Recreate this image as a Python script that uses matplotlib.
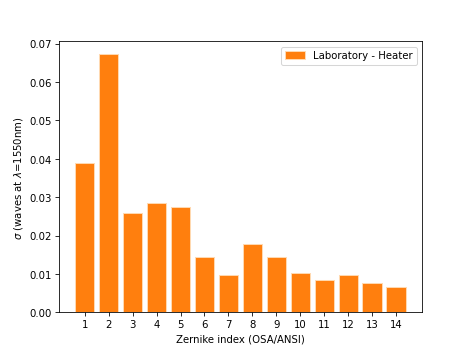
"""Zernike coefficient spread bar chart."""

import matplotlib

matplotlib.use("Agg")
import matplotlib.pyplot as plt

# Data
zernike_index = list(range(1, 15))
sigma_heater = [
    0.0390, 0.0672, 0.0258, 0.0284, 0.0275, 0.0144, 0.0098,
    0.0179, 0.0143, 0.0102, 0.0084, 0.0097, 0.0076, 0.0066,
]

fig, axis = plt.subplots(figsize=(6.4, 4.8), dpi=469 / 6.4)

# Bar plot
axis.bar(
    zernike_index,
    sigma_heater,
    width=0.8,
    color="#ff7f0e",
    edgecolor="#ffd9b0",
    linewidth=1.0,
    label="Laboratory - Heater",
)

# Prettifying
axis.set_xticks(zernike_index)
axis.set_xlabel("Zernike index (OSA/ANSI)")
axis.set_ylabel(r"$\sigma$ (waves at $\lambda$=1550nm)")
axis.legend(loc="upper right")

# Save
plt.savefig("out.png", dpi=469 / 6.4)
